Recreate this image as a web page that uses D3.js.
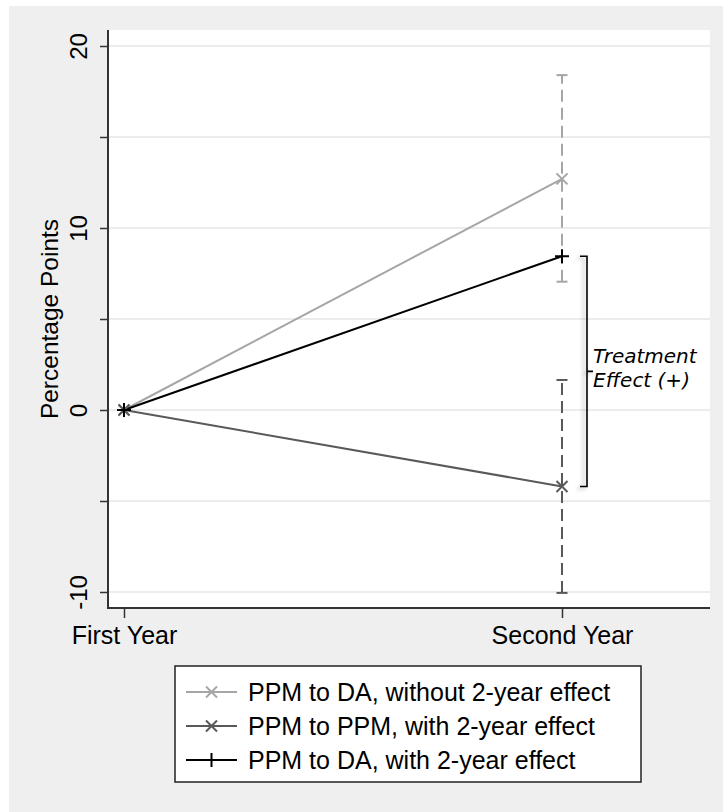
<!DOCTYPE html>
<html>
<head>
<meta charset="utf-8">
<script src="https://cdn.jsdelivr.net/npm/d3@7"></script>
<style>
  html, body { margin: 0; padding: 0; background: #ffffff; }
  svg { display: block; }
  text { font-family: "Liberation Sans", Arial, Helvetica, sans-serif; fill: #000; }
  .note { font-family: "DejaVu Sans", sans-serif; font-style: italic; }
</style>
</head>
<body>
<svg id="chart" width="723" height="812"></svg>
<script>
// values
const categories = ["First Year", "Second Year"];
const seriesNames = [
  "PPM to DA, without 2-year effect",
  "PPM to PPM, with 2-year effect",
  "PPM to DA, with 2-year effect"
];
const daNoEffect = [0, 12.7];
const ppmWithEffect = [0, -4.2];
const daWithEffect = [0, 8.45];
const daNoEffectCI = [7.05, 18.4];
const ppmWithEffectCI = [-10.05, 1.65];
const yTicks = [-10, 0, 10, 20];
const yMinorTicks = [-5, 5, 15];
const bracketLabel = ["Treatment", "Effect (+)"];

const seriesStyle = [
  { color: "#a6a6a6", marker: "x" },
  { color: "#595959", marker: "x" },
  { color: "#000000", marker: "+" }
];

const svg = d3.select("#chart");
const width = 723;
const height = 812;
const plot = { left: 108, top: 30, right: 710, bottom: 608 };

svg.append("rect")
  .attr("x", 9).attr("y", 6)
  .attr("width", width - 9).attr("height", height - 6)
  .attr("fill", "#efefef");

svg.append("rect")
  .attr("x", plot.left).attr("y", plot.top)
  .attr("width", plot.right - plot.left).attr("height", plot.bottom - plot.top)
  .attr("fill", "#ffffff");

const x = d3.scaleLinear().domain([0, 1]).range([124, 562]);
const y = d3.scaleLinear().domain([-10, 20]).range([592, 46]);

// grid lines every 5 points
const gridValues = yTicks.concat(yMinorTicks);
svg.append("g")
  .selectAll("line")
  .data(gridValues)
  .join("line")
  .attr("x1", plot.left).attr("x2", plot.right)
  .attr("y1", (d) => y(d)).attr("y2", (d) => y(d))
  .attr("stroke", "#e6e6e6")
  .attr("stroke-width", 1.5);

// axes
const yAxis = d3.axisLeft(y)
  .tickValues(gridValues)
  .tickSize(8)
  .tickFormat((d) => yTicks.includes(d) ? String(d) : "");

const yAxisG = svg.append("g")
  .attr("transform", `translate(${plot.left},0)`)
  .call(yAxis);
yAxisG.select(".domain").remove();
yAxisG.selectAll(".tick line").attr("stroke", "#333").attr("stroke-width", 1.5);
yAxisG.selectAll(".tick text")
  .attr("font-size", 24)
  .attr("x", 0).attr("y", 0).attr("dy", 0)
  .attr("text-anchor", "middle")
  .attr("transform", "translate(-21,0) rotate(-90)")
  .attr("font-family", "Liberation Sans, Arial, sans-serif")
  .attr("fill", "#000");

const xAxis = d3.axisBottom(x)
  .tickValues([0, 1])
  .tickSize(10)
  .tickFormat((d) => categories[d]);

const xAxisG = svg.append("g")
  .attr("transform", `translate(0,${plot.bottom})`)
  .call(xAxis);
xAxisG.select(".domain").remove();
xAxisG.selectAll(".tick line").attr("stroke", "#333").attr("stroke-width", 1.5);
xAxisG.selectAll(".tick text")
  .attr("font-size", 25)
  .attr("y", 36).attr("dy", 0)
  .attr("font-family", "Liberation Sans, Arial, sans-serif")
  .attr("fill", "#000");

svg.append("path")
  .attr("d", `M${plot.left},${plot.top}V${plot.bottom}H${plot.right}`)
  .attr("fill", "none")
  .attr("stroke", "#333")
  .attr("stroke-width", 2);

svg.append("text")
  .attr("transform", `translate(58,${(plot.top + plot.bottom) / 2}) rotate(-90)`)
  .attr("text-anchor", "middle")
  .attr("font-size", 24.5)
  .text("Percentage Points");

// confidence intervals at the second year
const ciData = [
  { range: daNoEffectCI, style: seriesStyle[0] },
  { range: ppmWithEffectCI, style: seriesStyle[1] }
];
const ciG = svg.append("g");
ciData.forEach((ci) => {
  const cx = x(1);
  ciG.append("line")
    .attr("x1", cx).attr("x2", cx)
    .attr("y1", y(ci.range[0])).attr("y2", y(ci.range[1]))
    .attr("stroke", ci.style.color)
    .attr("stroke-width", 2)
    .attr("stroke-dasharray", "12,6");
  ci.range.forEach((v) => {
    ciG.append("line")
      .attr("x1", cx - 5.5).attr("x2", cx + 5.5)
      .attr("y1", y(v)).attr("y2", y(v))
      .attr("stroke", ci.style.color)
      .attr("stroke-width", 2);
  });
});

// series lines and markers
const seriesValues = [daNoEffect, ppmWithEffect, daWithEffect];
const line = d3.line().x((d, i) => x(i)).y((d) => y(d));

function drawMarker(g, cx, cy, type, color) {
  const s = type === "x" ? 5.5 : 7;
  const d = type === "x"
    ? `M${cx - s},${cy - s}L${cx + s},${cy + s}M${cx - s},${cy + s}L${cx + s},${cy - s}`
    : `M${cx - s},${cy}H${cx + s}M${cx},${cy - s}V${cy + s}`;
  g.append("path")
    .attr("d", d)
    .attr("stroke", color)
    .attr("stroke-width", 2)
    .attr("fill", "none");
}

const seriesG = svg.append("g");
seriesValues.forEach((values, k) => {
  const st = seriesStyle[k];
  seriesG.append("path")
    .datum(values)
    .attr("d", line)
    .attr("fill", "none")
    .attr("stroke", st.color)
    .attr("stroke-width", 2);
});
seriesValues.forEach((values, k) => {
  const st = seriesStyle[k];
  values.forEach((v, i) => drawMarker(seriesG, x(i), y(v), st.marker, st.color));
});

// treatment effect bracket
const defs = svg.append("defs");
const shadow = defs.append("filter").attr("id", "soft-shadow")
  .attr("x", "-100%").attr("y", "-10%").attr("width", "300%").attr("height", "120%");
shadow.append("feGaussianBlur").attr("in", "SourceAlpha").attr("stdDeviation", 2).attr("result", "blur");
shadow.append("feOffset").attr("in", "blur").attr("dx", -3).attr("dy", 2).attr("result", "off");
shadow.append("feComponentTransfer").attr("in", "off").attr("result", "faded")
  .append("feFuncA").attr("type", "linear").attr("slope", 0.3);
const merge = shadow.append("feMerge");
merge.append("feMergeNode").attr("in", "faded");
merge.append("feMergeNode").attr("in", "SourceGraphic");

const bracketTop = y(daWithEffect[1]);
const bracketBottom = y(ppmWithEffect[1]);
const bracketMid = y((daWithEffect[1] + ppmWithEffect[1]) / 2);
const bx = x(1) + 25;
svg.append("path")
  .attr("d", `M${bx - 7},${bracketTop}H${bx}V${bracketBottom}H${bx - 7}M${bx},${bracketMid}H${bx + 6}`)
  .attr("fill", "none")
  .attr("stroke", "#000")
  .attr("stroke-width", 1.6)
  .attr("filter", "url(#soft-shadow)");

// two-line label kept in one text element
svg.append("text")
  .attr("class", "note")
  .attr("font-size", 20)
  .selectAll("tspan")
  .data(bracketLabel)
  .join("tspan")
  .attr("x", bx + 6)
  .attr("y", (d, i) => bracketMid - 8 + i * 24)
  .text((d) => d);

// legend
const legend = svg.append("g").attr("transform", "translate(175,666)");
legend.append("rect")
  .attr("width", 466).attr("height", 116)
  .attr("fill", "#fff")
  .attr("stroke", "#222")
  .attr("stroke-width", 1.5);

seriesNames.forEach((name, k) => {
  const st = seriesStyle[k];
  const ly = 26 + k * 34;
  legend.append("line")
    .attr("x1", 11).attr("x2", 62)
    .attr("y1", ly).attr("y2", ly)
    .attr("stroke", st.color)
    .attr("stroke-width", 2);
  drawMarker(legend, 36.5, ly, st.marker, st.color);
  legend.append("text")
    .attr("x", 73).attr("y", ly)
    .attr("dy", "0.36em")
    .attr("font-size", 25)
    .text(name);
});
</script>
</body>
</html>
